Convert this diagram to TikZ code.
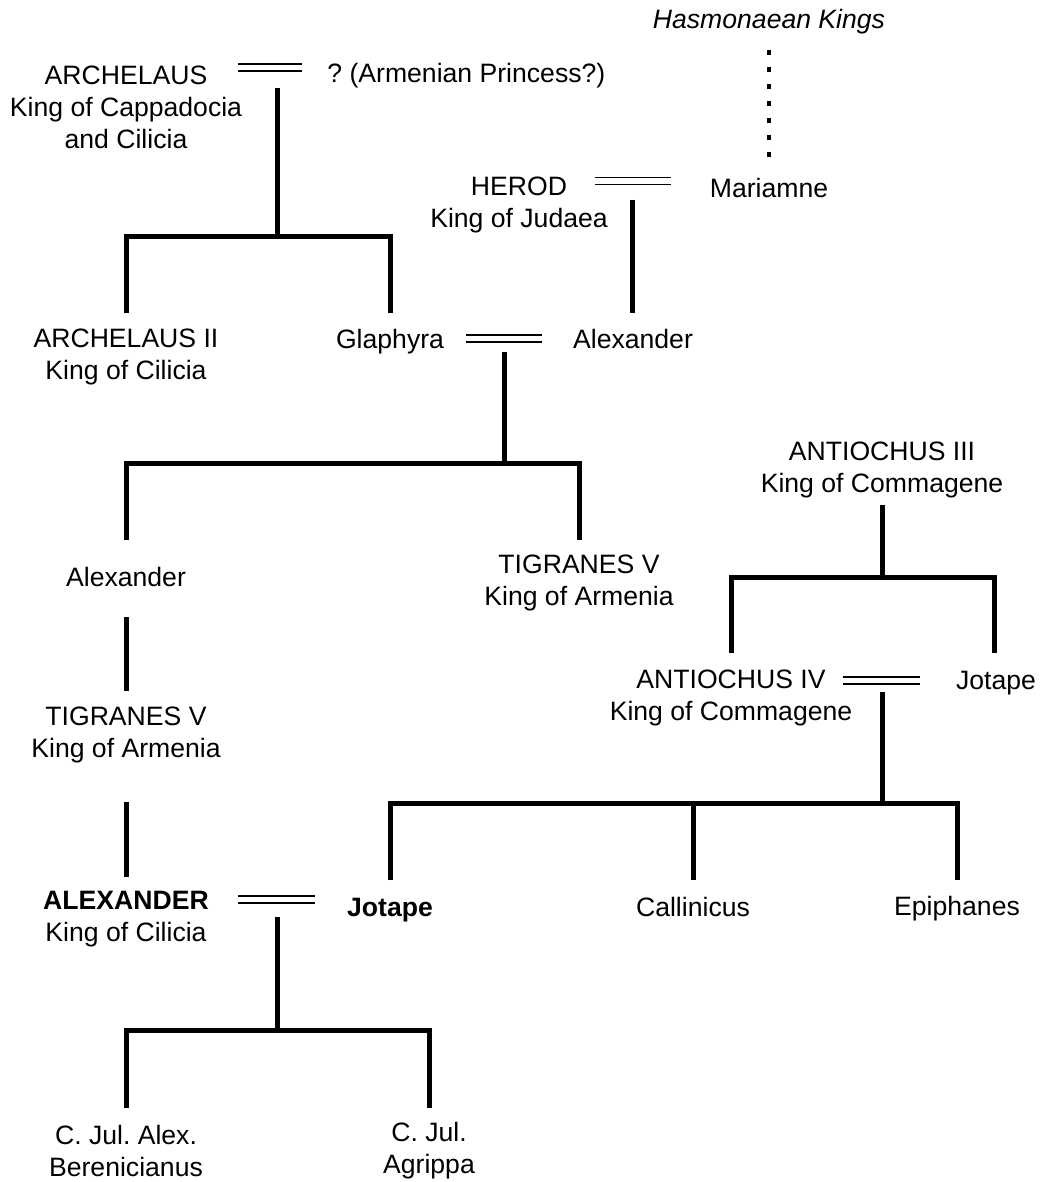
\documentclass[tikz,border=0pt]{standalone}
\usepackage{fontspec}
\setmainfont{Liberation Sans}
\begin{document}
\frenchspacing
\begin{tikzpicture}[x=0.5pt,y=-0.5pt,
  every node/.style={inner sep=0pt, align=center, font=\fontsize{13.3}{16}\selectfont},
  line/.style={line width=2.5pt, line join=miter},
  marr/.style={double, double distance=2.6pt, line width=0.8pt},
  dotline/.style={line width=2.4pt, dash pattern=on 2.4pt off 6.1pt}]
\useasboundingbox (0,0) rectangle (1043,1182);
% people
\node (hasm) at (769,22) {\itshape Hasmonaean Kings};
\node (arch) at (126,107) {ARCHELAUS\\King of Cappadocia\\and Cilicia};
\node[anchor=west] (armp) at (327,76) {? (Armenian Princess?)};
\node (herod) at (519,205) {HEROD\\King of Judaea};
\node (mariamne) at (769,188) {Mariamne};
\node (arch2) at (126,357) {ARCHELAUS II\\King of Cilicia};
\node (glaph) at (390,342) {Glaphyra};
\node (alexh) at (633,339) {Alexander};
\node (ant3) at (882,470) {ANTIOCHUS III\\King of Commagene};
\node (alex1) at (126,577) {Alexander};
\node (tigr1) at (579,583) {TIGRANES V\\King of Armenia};
\node (ant4) at (731,698) {ANTIOCHUS IV\\King of Commagene};
\node (jot1) at (996,683) {Jotape};
\node (tigr2) at (126,735) {TIGRANES V\\King of Armenia};
\node (alexk) at (126,919) {\bfseries ALEXANDER\\King of Cilicia};
\node (jot2) at (390,910) {\bfseries Jotape};
\node (call) at (693,907) {Callinicus};
\node (epi) at (957,909) {Epiphanes};
\node (ber) at (126,1151) {C. Jul. Alex.\\Berenicianus};
\node (agr) at (429,1151) {C. Jul.\\Agrippa};
% connector points
\coordinate (d1) at (769,50); \coordinate (d2) at (769,158);
\coordinate (m1a) at (238,67.5); \coordinate (m1b) at (302,67.5);
\coordinate (m2a) at (595,181); \coordinate (m2b) at (671,181);
\coordinate (m3a) at (466,338.5); \coordinate (m3b) at (542,338.5);
\coordinate (m4a) at (238,899.5); \coordinate (m4b) at (315,899.5);
\coordinate (m5a) at (843,680.5); \coordinate (m5b) at (920,680.5);
% Hasmonaean line
\draw[dotline] (d1) -- (d2);
% marriages
\draw[marr] (m1a) -- (m1b);
\draw[marr] (m2a) -- (m2b);
\draw[marr] (m3a) -- (m3b);
\draw[marr] (m4a) -- (m4b);
\draw[marr] (m5a) -- (m5b);
% Archelaus children
\draw[line] (277,88) -- (277,237);
\draw[line] (126,313) -- (126,237) -- (390,237) -- (390,313);
% Herod child
\draw[line] (632,200) -- (632,313);
% Glaphyra children
\draw[line] (504,352) -- (504,463);
\draw[line] (126,540) -- (126,463) -- (579,463) -- (579,540);
% Alexander line
\draw[line] (126,617) -- (126,691);
\draw[line] (126,802) -- (126,877);
% Alexander & Jotape children
\draw[line] (277,917) -- (277,1030);
\draw[line] (126,1108) -- (126,1030) -- (429,1030) -- (429,1108);
% Antiochus III children
\draw[line] (882,505) -- (882,577);
\draw[line] (731,653) -- (731,577) -- (994,577) -- (994,653);
% Antiochus IV children
\draw[line] (882,692) -- (882,803);
\draw[line] (390,880) -- (390,803) -- (957,803) -- (957,880);
\draw[line] (693,803) -- (693,880);
\end{tikzpicture}
\end{document}
